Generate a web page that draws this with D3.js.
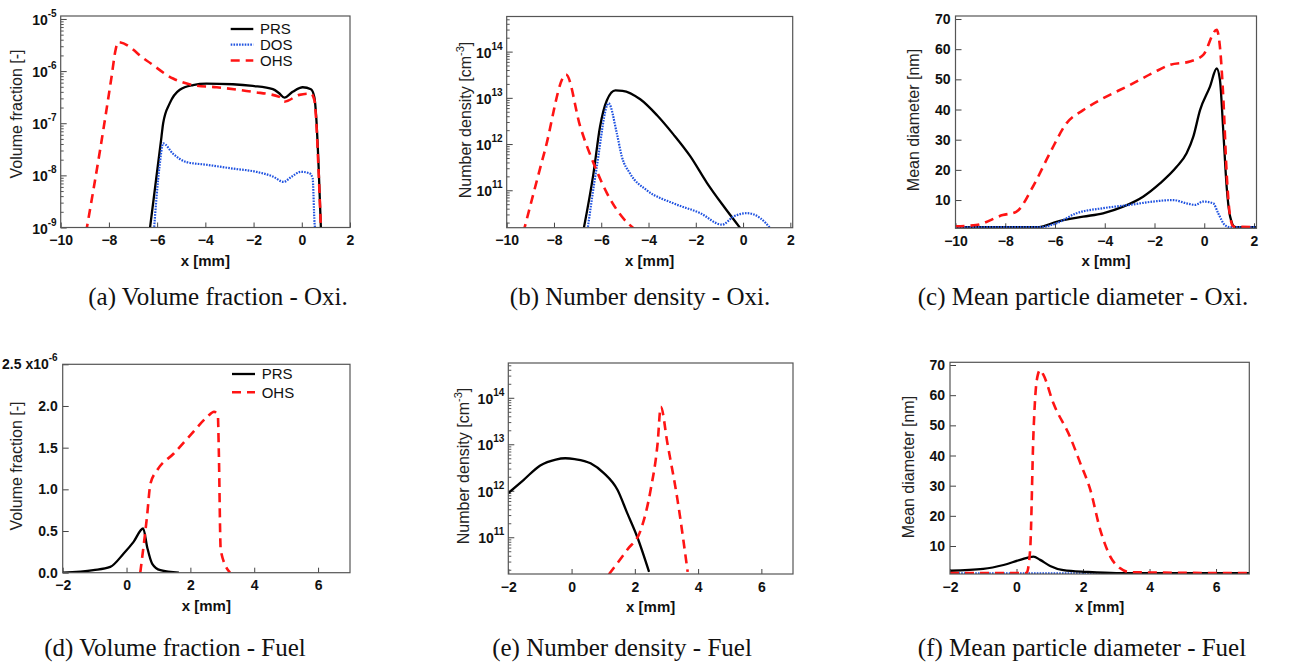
<!DOCTYPE html>
<html><head><meta charset="utf-8">
<script src="https://cdn.jsdelivr.net/npm/d3@7"></script>
<style>body{margin:0;background:#fff} svg{display:block}</style>
</head><body><svg id="c" width="1300" height="663"></svg>
<script>
// ---------------- DATA ----------------
const xTicksOxi = [-10, -8, -6, -4, -2, 0, 2];
const xTicksFuel = [-2, 0, 2, 4, 6];
const logTicksVf = [1e-9, 1e-8, 1e-7, 1e-6, 1e-5];
const logTicksNd = [1e11, 1e12, 1e13, 1e14];
const linTicksDia = [10, 20, 30, 40, 50, 60, 70];
const linTicksVfFuel = [0, 0.5e-6, 1.0e-6, 1.5e-6, 2.0e-6, 2.5e-6];
const linTickLabelsVfFuel = ["0.0", "0.5", "1.0", "1.5", "2.0", "2.5 x10"];

// (a) Volume fraction - Oxi.
const vfOxiPRS = [[-6.32,8e-10],[-6.03,9.3e-9],[-5.82,5.5e-8],[-5.75,1.0e-7],[-5.48,2.4e-7],[-5.06,4.4e-7],[-4.51,5.4e-7],[-3.96,5.75e-7],[-2.86,5.6e-7],[-2.03,5.2e-7],[-1.2,4.5e-7],[-0.95,3.8e-7],[-0.72,3.1e-7],[-0.38,4.0e-7],[0.04,4.9e-7],[0.38,4.5e-7],[0.52,3.2e-7],[0.6,1.3e-7],[0.7,1.4e-8],[0.8,8e-10]];
const vfOxiDOS = [[-6.14,8e-10],[-5.9,1.5e-8],[-5.75,4.1e-8],[-5.34,2.6e-8],[-4.79,1.8e-8],[-3.96,1.6e-8],[-2.86,1.35e-8],[-1.89,1.17e-8],[-1.2,9.5e-9],[-0.75,7.5e-9],[-0.44,9.3e-9],[-0.03,1.17e-8],[0.31,1.1e-8],[0.45,8.9e-9],[0.53,1.2e-9],[0.58,8e-10]];
const vfOxiOHS = [[-8.95,8e-10],[-8.37,3.0e-8],[-7.89,7.8e-7],[-7.72,2.6e-6],[-7.62,3.6e-6],[-6.44,1.6e-6],[-5.34,7.2e-7],[-4.51,5.4e-7],[-3.55,4.9e-7],[-2.03,4.0e-7],[-0.93,3.2e-7],[-0.72,2.6e-7],[-0.1,3.5e-7],[0.38,3.7e-7],[0.52,2.8e-7],[0.59,1.3e-7],[0.69,1.45e-8],[0.8,8e-10]];

// (b) Number density - Oxi.
const ndOxiPRS = [[-6.75,1.4e10],[-6.33,2.3e11],[-6.05,2.4e12],[-5.76,8.9e12],[-5.4,1.45e13],[-5.1,1.42e13],[-4.35,9.3e12],[-3.64,4.2e12],[-2.94,1.6e12],[-2.23,5.4e11],[-1.53,1.45e11],[-0.82,4.5e10],[-0.11,1.5e10]];
const ndOxiDOS = [[-6.58,1.4e10],[-6.19,3.2e11],[-5.69,7.6e12],[-5.34,1.7e12],[-5.13,5.4e11],[-4.78,2.3e11],[-4.07,1.0e11],[-2.94,5.2e10],[-1.81,3.2e10],[-0.89,1.8e10],[-0.4,2.7e10],[0.17,3.2e10],[0.73,2.5e10],[1.16,1.5e10]];
const ndOxiOHS = [[-9.3,1.2e10],[-8.38,7.4e11],[-7.49,3.2e13],[-6.89,2.4e12],[-6.26,3.2e11],[-5.76,8.7e10],[-5.13,2.7e10],[-4.56,1.4e10]];

// (c) Mean particle diameter - Oxi.
const dOxiPRS = [[-10,1.0],[-6.7,1.0],[-6.48,1.3],[-5.94,2.8],[-4.87,4.5],[-4.07,5.6],[-3.26,7.8],[-2.46,11.1],[-1.78,15.5],[-1.11,21],[-0.71,25.5],[-0.44,31],[-0.17,39.8],[0.23,47.6],[0.5,53.6],[0.63,49.8],[0.77,32.1],[0.9,14.4],[1.04,4.5],[1.24,1.0],[2.1,1.0]];
const dOxiDOS = [[-10,1.0],[-6.6,1.0],[-5.94,2.3],[-5.14,5.6],[-4.07,7.3],[-2.99,8.4],[-2.05,9.5],[-1.25,10.0],[-0.71,8.9],[-0.37,8.4],[-0.04,9.5],[0.36,8.9],[0.56,5.6],[0.83,1.7],[1.04,1.0],[2.1,1.0]];
const dOxiOHS = [[-10,1.3],[-9.17,1.7],[-8.1,5.0],[-7.56,6.1],[-6.89,14.4],[-6.21,25.5],[-5.54,35.4],[-4.87,39.8],[-4.07,43.7],[-2.99,48.1],[-2.05,52.2],[-1.38,54.8],[-0.58,55.9],[-0.04,58.1],[0.5,66.4],[0.63,60.8],[0.77,43.2],[0.9,18.9],[1.04,4.5],[1.17,1.2],[2.1,1.0]];

// (d) Volume fraction - Fuel
const vfFuelPRS = [[-2,0.0],[-1.04,0.03e-6],[-0.51,0.07e-6],[-0.09,0.23e-6],[0.22,0.37e-6],[0.52,0.53e-6],[0.65,0.3e-6],[0.8,0.11e-6],[1.06,0.03e-6],[1.64,0.0]];
const vfFuelOHS = [[0.43,0.0],[0.64,0.67e-6],[0.75,1.07e-6],[0.96,1.23e-6],[1.48,1.43e-6],[2.0,1.65e-6],[2.53,1.87e-6],[2.74,1.93e-6],[2.86,1.89e-6],[2.89,1.47e-6],[2.95,0.27e-6],[3.24,0.0]];

// (e) Number density - Fuel
const ndFuelPRS = [[-2,8.9e11],[-1.52,1.7e12],[-0.99,3.5e12],[-0.5,4.7e12],[-0.2,5.0e12],[0.1,4.8e12],[0.6,3.9e12],[1.02,2.4e12],[1.45,1.05e12],[1.76,3.3e11],[2.08,1.0e11],[2.45,1.8e10]];
const ndFuelOHS = [[1.18,1.6e10],[1.76,5.4e10],[2.19,1.45e11],[2.5,1.05e12],[2.72,1.05e13],[2.82,6.4e13],[3.03,1.05e13],[3.35,6.3e11],[3.67,1.8e10]];

// (f) Mean particle diameter - Fuel
const dFuelPRS = [[-2,1.8],[-1.0,2.4],[-0.39,3.7],[0.11,5.4],[0.51,6.5],[0.71,5.4],[1.01,3.4],[1.41,2.0],[2.12,1.4],[3,1.0],[7,1.0]];
const dFuelDOS = [[-2,0.9],[7,0.9]];
const dFuelOHS = [[-2,1.0],[0.3,1.0],[0.41,8.7],[0.51,47.4],[0.61,65],[0.71,68.3],[0.81,66.7],[1.11,57.3],[1.61,46.2],[1.92,37.4],[2.22,28.6],[2.52,15.3],[2.82,6.5],[3.12,2.6],[3.42,1.3],[7,1.0]];

const captions = ["(a) Volume fraction - Oxi.", "(b) Number density - Oxi.", "(c) Mean particle diameter - Oxi.",
                  "(d) Volume fraction - Fuel", "(e) Number density - Fuel", "(f) Mean particle diameter - Fuel"];

// ---------------- STYLE ----------------
const styles = {
  PRS: {stroke: "#000000", width: 2.3, dash: null},
  DOS: {stroke: "#1f52e0", width: 2.2, dash: "1.6,1.2"},
  OHS: {stroke: "#ff1414", width: 2.6, dash: "9,6"}
};
const svg = d3.select("#c");
const sans = "'Liberation Sans', Arial, Helvetica, sans-serif";
const serif = "'Liberation Serif', 'Times New Roman', serif";

const panels = [
  {l:60.7, r:350, t:16, b:227.5, xd:[-10,2], xt:xTicksOxi, log:true, yd:[1e-9,1.14e-5], yt:logTicksVf,
   series:[["PRS",vfOxiPRS],["DOS",vfOxiDOS],["OHS",vfOxiOHS]], ytitle:["Volume fraction [-]"], tx:16, ty:114,
   legend:{x1:230.7, x2:253.3, tx:260, ys:[29,44.7,60.5], names:["PRS","DOS","OHS"]}, cap:captions[0], cx:218, cy:305},
  {l:506.7, r:792.7, t:16.5, b:227.7, xd:[-10,2.1], xt:xTicksOxi, log:true, yd:[1.55e10,5.75e14], yt:logTicksNd,
   series:[["PRS",ndOxiPRS],["DOS",ndOxiDOS],["OHS",ndOxiOHS]], ytitle:"nd", tx:465, ty:120, cap:captions[1], cx:640, cy:305},
  {l:955.5, r:1256.5, t:16, b:228.3, xd:[-10,2.1], xt:xTicksOxi, log:false, yd:[0.63,71], yt:linTicksDia,
   series:[["PRS",dOxiPRS],["DOS",dOxiDOS],["OHS",dOxiOHS]], ytitle:["Mean diameter [nm]"], tx:913, ty:120, cap:captions[2], cx:1083, cy:305},
  {l:62.7, r:350, t:364.3, b:572.7, xd:[-2,7], xt:xTicksFuel, log:false, yd:[0,2.5e-6], yt:linTicksVfFuel, ylab:linTickLabelsVfFuel,
   series:[["PRS",vfFuelPRS],["OHS",vfFuelOHS]], ytitle:["Volume fraction [-]"], tx:16, ty:466,
   legend:{x1:232, x2:255, tx:261.7, ys:[374,392.3], names:["PRS","OHS"]}, cap:captions[3], cx:175, cy:656},
  {l:508.3, r:793, t:363, b:574, xd:[-2,7], xt:xTicksFuel, log:true, yd:[1.62e10,5.6e14], yt:logTicksNd,
   series:[["PRS",ndFuelPRS],["OHS",ndFuelOHS]], ytitle:"nd", tx:463, ty:466, cap:captions[4], cx:622, cy:656},
  {l:950, r:1249.3, t:362.3, b:574, xd:[-2,7], xt:xTicksFuel, log:false, yd:[0.72,70.9], yt:linTicksDia,
   series:[["DOS",dFuelDOS],["PRS",dFuelPRS],["OHS",dFuelOHS]], ytitle:["Mean diameter [nm]"], tx:908, ty:467, cap:captions[5], cx:1082, cy:656}
];

panels.forEach((p, i) => {
  const g = svg.append("g");
  const x = d3.scaleLinear().domain(p.xd).range([p.l, p.r]);
  const y = (p.log ? d3.scaleLog() : d3.scaleLinear()).domain(p.yd).range([p.b, p.t]);
  const cid = "clip" + i;
  svg.append("clipPath").attr("id", cid).append("rect")
    .attr("x", p.l).attr("y", p.t).attr("width", p.r - p.l).attr("height", p.b - p.t);

  // x axis ticks (inward)
  const xa = g.append("g").attr("transform", `translate(0,${p.b})`)
    .call(d3.axisBottom(x).tickValues(p.xt).tickSize(-5).tickSizeOuter(0).tickPadding(7).tickFormat(d3.format("d")));
  xa.select(".domain").remove();
  xa.selectAll("line").attr("stroke", "#444");
  xa.selectAll("text").attr("font-family", sans).attr("font-weight", "bold").attr("font-size", 14).attr("fill", "#111").attr("dy", "0.75em");

  // y axis ticks
  const ya = g.append("g").attr("transform", `translate(${p.l},0)`)
    .call(d3.axisLeft(y).tickValues(p.yt).tickSize(-6).tickSizeOuter(0).tickFormat(""));
  ya.select(".domain").remove();
  ya.selectAll("line").attr("stroke", "#444");
  if (p.log) {
    const lo = Math.floor(Math.log10(p.yd[0])), hi = Math.ceil(Math.log10(p.yd[1]));
    const minors = [];
    for (let k = lo; k <= hi; k++) for (let m = 2; m <= 9; m++) {
      const v = m * Math.pow(10, k);
      if (v >= p.yd[0] && v <= p.yd[1]) minors.push(v);
    }
    const ym = g.append("g").attr("transform", `translate(${p.l},0)`)
      .call(d3.axisLeft(y).tickValues(minors).tickSize(-3).tickSizeOuter(0).tickFormat(""));
    ym.select(".domain").remove();
    ym.selectAll("line").attr("stroke", "#555");
    p.yt.forEach(v => {
      const t = g.append("text").attr("x", p.l - 4).attr("y", y(v) + 6).attr("text-anchor", "end")
        .attr("font-family", sans).attr("font-weight", "bold").attr("font-size", 14).attr("fill", "#111");
      t.append("tspan").text("10");
      t.append("tspan").attr("dy", -8).attr("font-size", 10).text(String(Math.round(Math.log10(v))));
    });
  } else {
    p.yt.forEach((v, j) => {
      const t = g.append("text").attr("x", p.l - 5).attr("y", y(v) + 5).attr("text-anchor", "end")
        .attr("font-family", sans).attr("font-weight", "bold").attr("font-size", 14).attr("fill", "#111");
      const lab = p.ylab ? p.ylab[j] : String(v);
      if (p.ylab && j === p.yt.length - 1) {
        t.append("tspan").text(lab);
        t.append("tspan").attr("dy", -8).attr("font-size", 10).text("-6");
      } else t.text(lab);
    });
  }

  // series
  const line = d3.line().x(d => x(d[0])).y(d => y(d[1])).curve(d3.curveMonotoneX);
  const lg = g.append("g").attr("clip-path", `url(#${cid})`);
  p.series.forEach(([name, data]) => {
    const s = styles[name];
    lg.append("path").datum(data).attr("d", line).attr("fill", "none")
      .attr("stroke", s.stroke).attr("stroke-width", s.width)
      .attr("stroke-dasharray", s.dash).attr("stroke-linejoin", "round");
  });

  // frame
  g.append("rect").attr("x", p.l).attr("y", p.t).attr("width", p.r - p.l).attr("height", p.b - p.t)
    .attr("fill", "none").attr("stroke", "#555").attr("stroke-width", 1.2);

  // x title
  g.append("text").attr("x", (p.l + p.r) / 2).attr("y", p.b + 38).attr("text-anchor", "middle")
    .attr("font-family", sans).attr("font-weight", "bold").attr("font-size", 15).attr("fill", "#111").text("x [mm]");

  // y title
  const yt = g.append("text").attr("transform", `translate(${p.tx},${p.ty}) rotate(-90)`)
    .attr("text-anchor", "middle").attr("dy", "0.35em")
    .attr("font-family", sans).attr("font-size", 16).attr("fill", "#222");
  if (p.ytitle === "nd") {
    yt.append("tspan").text("Number density [cm");
    yt.append("tspan").attr("dy", -7).attr("font-size", 11).text("-3");
    yt.append("tspan").attr("dy", 7).text("]");
  } else yt.text(p.ytitle[0]);

  // legend
  if (p.legend) {
    const L = p.legend;
    L.names.forEach((n, j) => {
      const s = styles[n];
      g.append("line").attr("x1", L.x1).attr("x2", L.x2).attr("y1", L.ys[j]).attr("y2", L.ys[j])
        .attr("stroke", s.stroke).attr("stroke-width", s.width).attr("stroke-dasharray", s.dash);
      g.append("text").attr("x", L.tx).attr("y", L.ys[j]).attr("dy", "0.35em")
        .attr("font-family", sans).attr("font-size", 15).attr("fill", "#111").text(n);
    });
  }

  // caption
  g.append("text").attr("x", p.cx).attr("y", p.cy).attr("text-anchor", "middle")
    .attr("font-family", serif).attr("font-size", 25).attr("fill", "#111").text(p.cap);
});
</script>
</body></html>
